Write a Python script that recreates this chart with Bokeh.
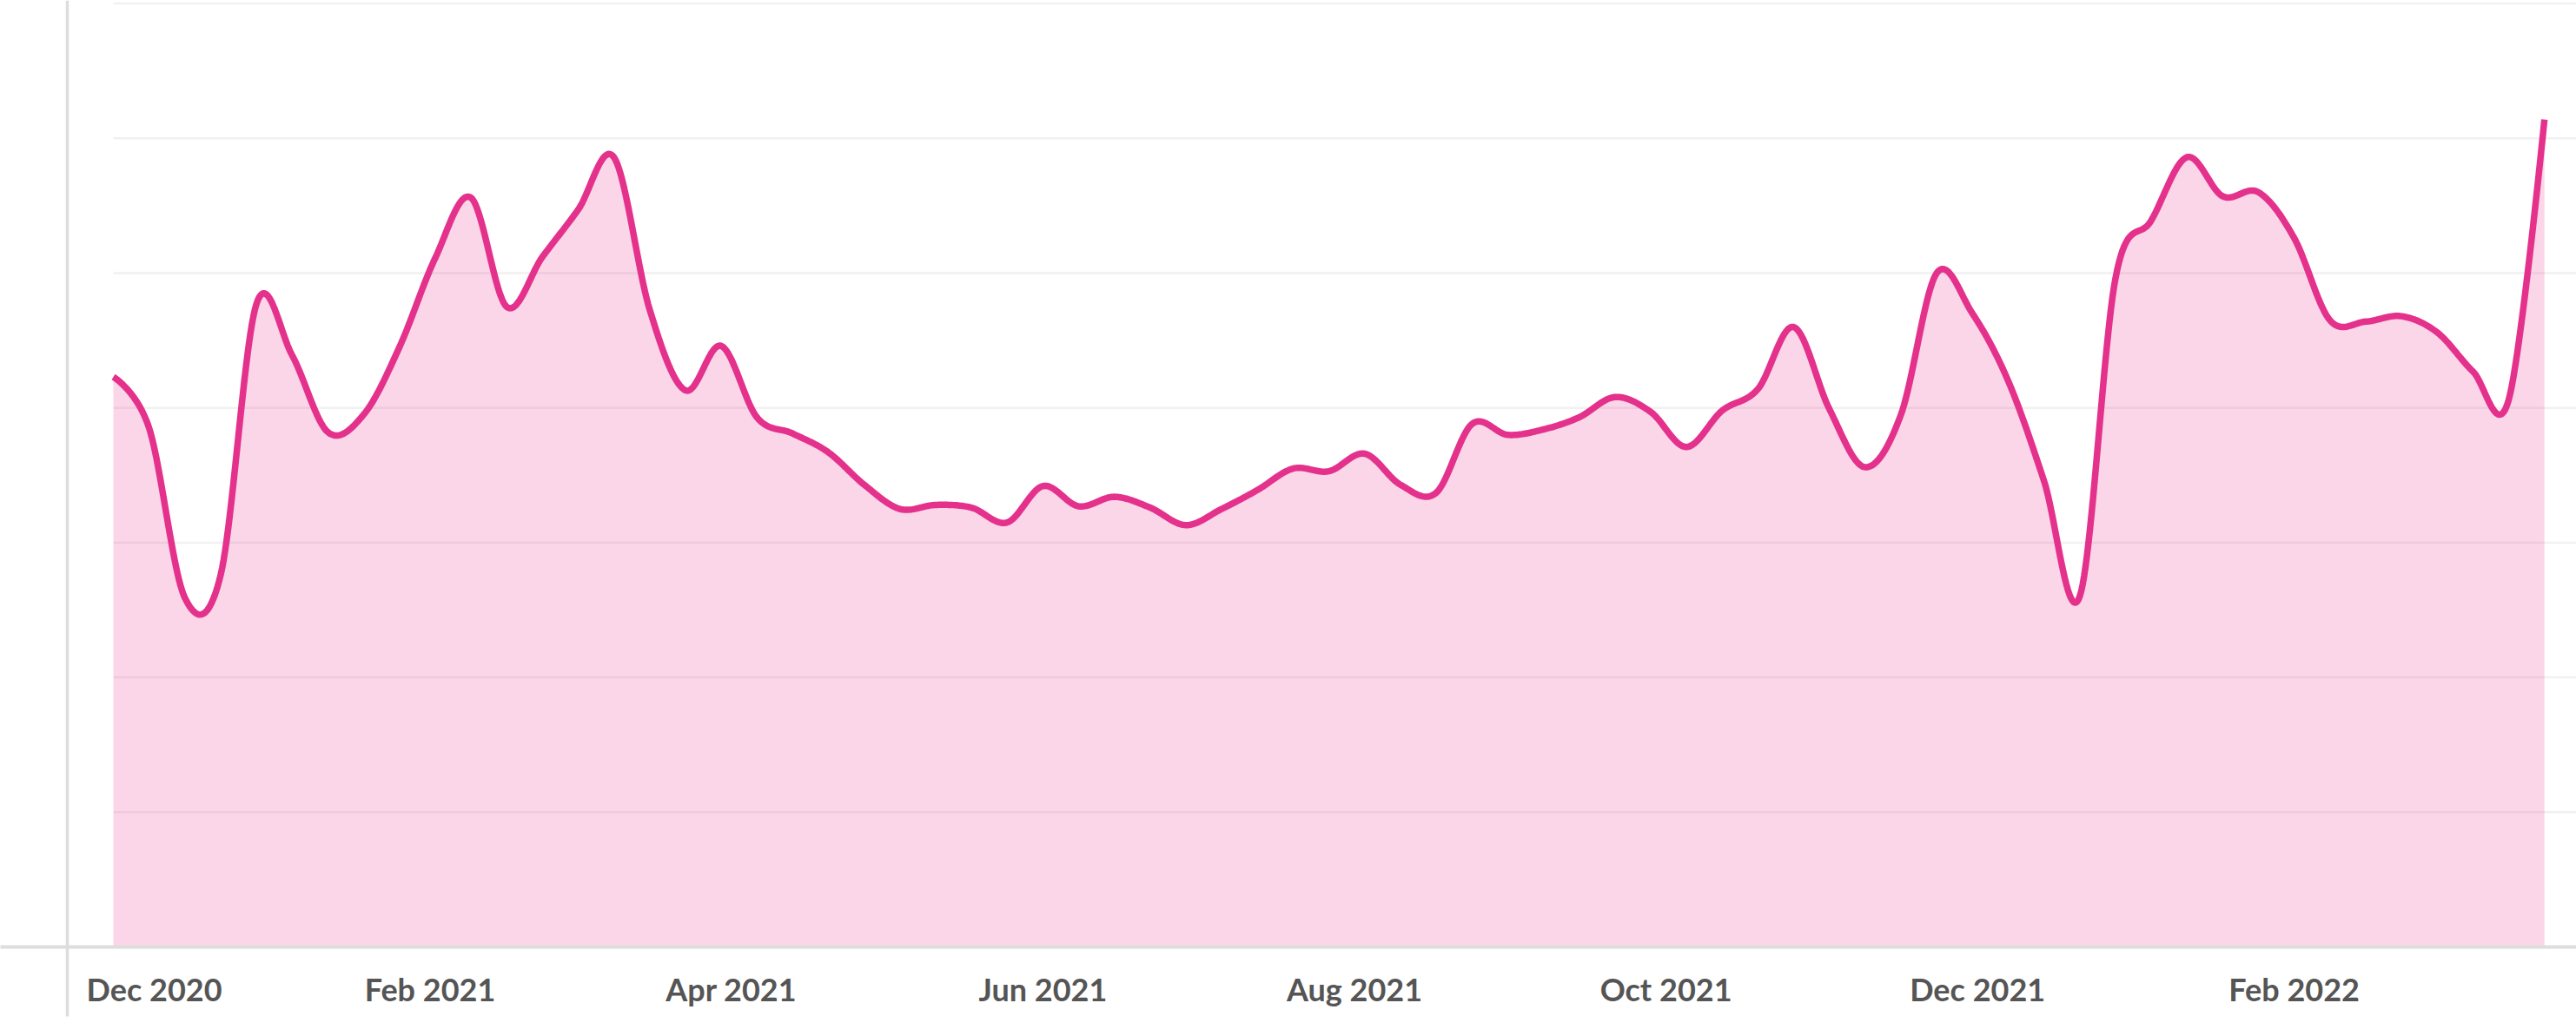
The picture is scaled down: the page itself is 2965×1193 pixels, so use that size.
import numpy as np
import pandas as pd
from bokeh.plotting import figure
from bokeh.models import Range1d, FixedTicker, DatetimeTickFormatter, Span
from bokeh.embed import file_html
from bokeh.resources import INLINE

# ---------------- data (weekly values) ----------------
week_start = "2020-12-01"
values = [42.3, 38.5, 25.9, 27.6, 47.7, 43.9, 38.2, 39.5, 44.5, 51.1,
          55.6, 47.5, 51.2, 54.7, 58.6, 47.3, 41.3, 44.6, 39.3, 38.1,
          36.7, 34.3, 32.5, 32.8, 32.6, 31.5, 34.2, 32.7, 33.4, 32.6,
          31.3, 32.5, 33.9, 35.5, 35.3, 36.6, 34.3, 33.7, 38.8, 38.0,
          38.4, 39.3, 40.8, 39.7, 37.1, 39.8, 41.4, 46.0, 39.9, 35.6,
          39.5, 50.0, 47.0, 42.0, 34.6, 26.0, 49.6, 53.9, 58.6, 55.7,
          56.0, 52.6, 46.5, 46.4, 46.8, 45.6, 42.7, 40.6, 61.4]
dates = pd.date_range(week_start, periods=len(values), freq="7D")
tick_dates = ["2020-12-09", "2021-02-01", "2021-04-01", "2021-06-01",
              "2021-08-01", "2021-10-01", "2021-12-01", "2022-02-01"]
grid_levels = [10, 20, 30, 40, 50, 60, 70]

# ---------------- layout ----------------
W, H = 2965, 1193
FRAME_H = 1090
Y_MAX = 70.23
PX_PER_DAY = 41.15 / 7.0
DATA_LEFT_PX = 130
VLINE_PX = 77
DAY_MS = 86400000.0

def ms(t):
    return pd.Timestamp(t).value / 1e6

t0 = ms(dates[0])
x_start = t0 - DATA_LEFT_PX / PX_PER_DAY * DAY_MS
x_end = x_start + W / PX_PER_DAY * DAY_MS
vline = x_start + VLINE_PX / PX_PER_DAY * DAY_MS

# ---------------- smooth curve geometry (Catmull-Rom through the weekly points) ----------------
def catmull_rom(px, py, alpha=0.0, steps=24):
    P = np.column_stack([px, py]).astype(float)
    n = len(P)
    out = [P[0]]
    for i in range(n - 1):
        p1, p2 = P[i], P[i + 1]
        l12_2a = np.sum((p2 - p1) ** 2) ** alpha
        l12_a = np.sqrt(l12_2a)
        c1 = p1.copy()
        if i > 0:
            p0 = P[i - 1]
            l01_2a = np.sum((p1 - p0) ** 2) ** alpha
            l01_a = np.sqrt(l01_2a)
            a = 2 * l01_2a + 3 * l01_a * l12_a + l12_2a
            nn = 3 * l01_a * (l01_a + l12_a)
            c1 = (p1 * a - p0 * l12_2a + p2 * l01_2a) / nn
        c2 = p2.copy()
        if i < n - 2:
            p3 = P[i + 2]
            l23_2a = np.sum((p3 - p2) ** 2) ** alpha
            l23_a = np.sqrt(l23_2a)
            b = 2 * l23_2a + 3 * l23_a * l12_a + l12_2a
            m = 3 * l23_a * (l23_a + l12_a)
            c2 = (p2 * b + p1 * l23_2a - p3 * l12_2a) / m
        t = np.linspace(0, 1, steps + 1)[1:, None]
        seg = ((1 - t) ** 3) * p1 + 3 * ((1 - t) ** 2) * t * c1 + 3 * (1 - t) * (t ** 2) * c2 + (t ** 3) * p2
        out.extend(seg)
    return np.array(out)

sx = PX_PER_DAY
sy = FRAME_H / Y_MAX
day_off = np.array([(d - dates[0]).days for d in dates], dtype=float)
curve = catmull_rom(day_off * sx, np.array(values) * sy)
xd = t0 + curve[:, 0] / sx * DAY_MS
yd = curve[:, 1] / sy

# ---------------- figure ----------------
p = figure(width=W, height=H, x_axis_type="datetime", y_axis_location=None,
           x_range=Range1d(x_start, x_end), y_range=Range1d(0, Y_MAX),
           output_backend="svg", toolbar_location=None,
           min_border_left=0, min_border_right=0, min_border_top=0,
           min_border_bottom=H - FRAME_H)
p.outline_line_color = None
p.grid.visible = False
p.background_fill_color = "white"
p.border_fill_color = "white"

LINE = "#e4328c"

# gridlines (from data start to the right edge)
p.segment(x0=[t0] * len(grid_levels), x1=[x_end] * len(grid_levels),
          y0=grid_levels, y1=grid_levels, line_color="#f1f1f1", line_width=2.5)

p.varea(x=xd, y1=np.zeros_like(yd), y2=yd, fill_color=LINE, fill_alpha=0.2)
p.line(x=xd, y=yd, line_color=LINE, line_width=7.5, line_join="round")

p.add_layout(Span(location=vline, dimension="height", line_color="#dddddd", line_width=3.5))

ax = p.xaxis[0]
ax.ticker = FixedTicker(ticks=[ms(t) for t in tick_dates], minor_ticks=[vline])
fmt = "%b %Y"
ax.formatter = DatetimeTickFormatter(microseconds=fmt, milliseconds=fmt, seconds=fmt,
                                     minsec=fmt, minutes=fmt, hourmin=fmt, hours=fmt,
                                     days=fmt, months=fmt, years=fmt)
ax.axis_line_color = "#dddddd"
ax.axis_line_width = 4
ax.major_tick_line_color = None
ax.major_tick_out = 0
ax.major_tick_in = 0
ax.minor_tick_line_color = "#dddddd"
ax.minor_tick_line_width = 3.5
ax.minor_tick_in = 0
ax.minor_tick_out = 80
ax.major_label_text_font = "Lato"
ax.major_label_text_font_style = "bold"
ax.major_label_text_font_size = "36px"
ax.major_label_text_color = "#555555"
ax.major_label_standoff = -54

open("out.html", "w").write(file_html(p, INLINE))
